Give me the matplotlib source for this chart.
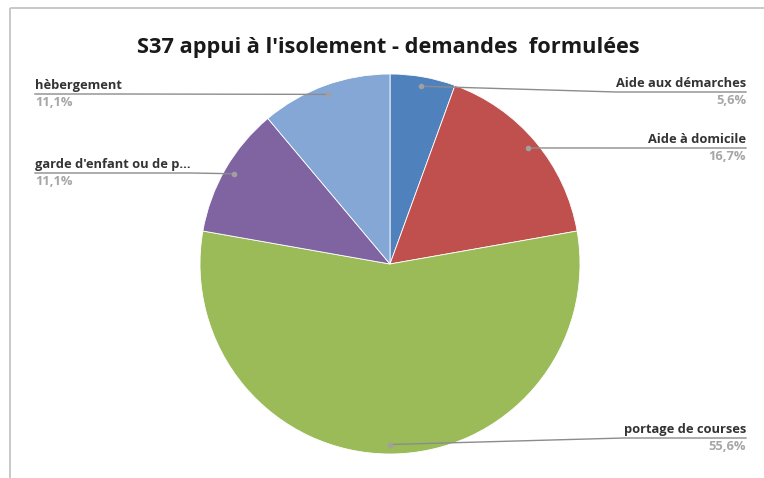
import numpy as np
import matplotlib
matplotlib.use('Agg')
import matplotlib.pyplot as plt

# data
categories = ['Aide aux démarches', 'Aide à domicile', 'portage de courses',
              "garde d'enfant ou de p...", 'hèbergement']
counts = [1, 3, 10, 2, 2]
pct_labels = ['5,6%', '16,7%', '55,6%', '11,1%', '11,1%']
colors = ['#4F81BD', '#C0504D', '#9BBB59', '#8064A2', '#84A7D5']

W, H = 764, 478
plt.rcParams['font.family'] = ['Open Sans', 'DejaVu Sans']

fig = plt.figure(figsize=(W/100, H/100), dpi=100)
ax = fig.add_axes([0, 0, 1, 1])

cx, cy, R = 390, H - 264, 190
ax.pie(counts, colors=colors, startangle=90, counterclock=False,
       center=(cx, cy), radius=R, frame=True,
       wedgeprops=dict(edgecolor='white', linewidth=0.6))
ax.set_xlim(0, W)
ax.set_ylim(0, H)
ax.set_aspect('equal')
ax.axis('off')

# chart frame (Excel chart area border)
ax.plot([10, W], [H - 8, H - 8], color='#C4C4C4', lw=1.3, solid_capstyle='butt')
ax.plot([10, 10], [H - 8, 0], color='#C4C4C4', lw=1.3, solid_capstyle='butt')

ax.text(388, H - 47, "S37 appui à l'isolement - demandes  formulées",
        ha='center', va='center', fontsize=15.7, fontweight='bold', color='#1a1a1a')

# label layout: (side, underline y in image px)
layout = [('r', 92), ('r', 148), ('r', 438), ('l', 173), ('l', 94)]
right_x, left_x = 746, 35
fs = 9.3

frac = np.cumsum([0] + counts) / sum(counts)
for i, (name, pct) in enumerate(zip(categories, pct_labels)):
    mid = 90 - 360 * (frac[i] + frac[i + 1]) / 2
    px = cx + 0.95 * R * np.cos(np.radians(mid))
    py = cy + 0.95 * R * np.sin(np.radians(mid))
    side, uy = layout[i]
    uy = H - uy
    if side == 'r':
        t = ax.text(right_x, uy + 2, name, ha='right', va='bottom', fontsize=fs,
                    fontweight='bold', color='#333333')
        ax.text(right_x, uy - 2, pct, ha='right', va='top', fontsize=fs,
                fontweight='bold', color='#A6A6A6')
        fig.canvas.draw()
        bb = t.get_window_extent()
        ax.plot([px, bb.x0, right_x], [py, uy, uy], color='#8C8C8C', lw=1)
    else:
        t = ax.text(left_x, uy + 2, name, ha='left', va='bottom', fontsize=fs,
                    fontweight='bold', color='#333333')
        ax.text(left_x, uy - 2, pct, ha='left', va='top', fontsize=fs,
                fontweight='bold', color='#A6A6A6')
        fig.canvas.draw()
        bb = t.get_window_extent()
        ax.plot([left_x, bb.x1, px], [uy, uy, py], color='#8C8C8C', lw=1)
    ax.plot(px, py, 'o', color='#A0A0A0', ms=3)

fig.savefig('out.png', dpi=100)
